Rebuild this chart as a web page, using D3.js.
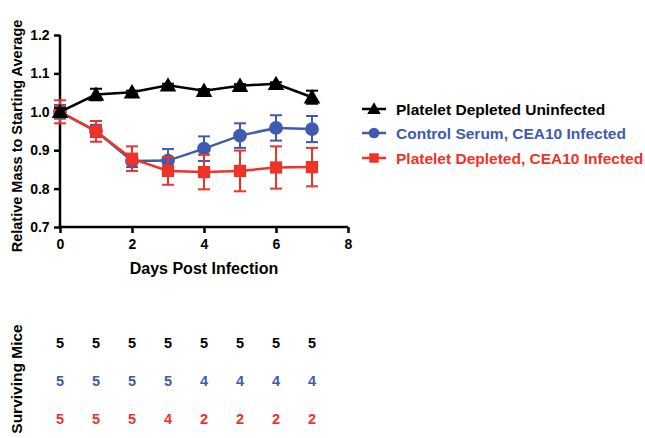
<!DOCTYPE html>
<html>
<head>
<meta charset="utf-8">
<script src="https://cdn.jsdelivr.net/npm/d3@7"></script>
<style>
  html, body { margin: 0; padding: 0; background: #fff; }
  svg { display: block; font-family: "Liberation Sans", Arial, sans-serif; }
</style>
</head>
<body>
<svg id="chart" width="645" height="438"></svg>
<script>
// Days after infection
const days = [0, 1, 2, 3, 4, 5, 6, 7];

// Mean relative mass and SEM for each group
const uninfectedMean = [1.000, 1.045, 1.051, 1.069, 1.055, 1.068, 1.073, 1.038];
const uninfectedErr  = [0.010, 0.015, 0.004, 0.004, 0.004, 0.004, 0.004, 0.017];
const controlMean    = [1.000, 0.950, 0.872, 0.873, 0.904, 0.938, 0.958, 0.955];
const controlErr     = [0.018, 0.016, 0.016, 0.030, 0.032, 0.032, 0.033, 0.034];
const depletedMean   = [1.000, 0.949, 0.878, 0.846, 0.843, 0.846, 0.855, 0.856];
const depletedErr    = [0.030, 0.027, 0.032, 0.036, 0.045, 0.053, 0.055, 0.050];

// Surviving mice per day for each group
const uninfectedSurv = [5, 5, 5, 5, 5, 5, 5, 5];
const controlSurv    = [5, 5, 5, 5, 4, 4, 4, 4];
const depletedSurv   = [5, 5, 5, 4, 2, 2, 2, 2];

const seriesNames = ["Platelet Depleted Uninfected", "Control Serum, CEA10 Infected", "Platelet Depleted, CEA10 Infected"];
const seriesColors = ["#000000", "#3f5bb0", "#ee3327"];
const seriesShapes = [d3.symbolTriangle, d3.symbolCircle, d3.symbolSquare];

const xTicks = [0, 2, 4, 6, 8];
const yTicks = [0.7, 0.8, 0.9, 1.0, 1.1, 1.2];

const svg = d3.select("#chart");

const x = d3.scaleLinear().domain([0, 8]).range([60, 348]);
const y = d3.scaleLinear().domain([0.7, 1.2]).range([227, 35]);

// Axes
const xAxis = d3.axisBottom(x).tickValues(xTicks).tickFormat(d3.format("d")).tickSize(6).tickSizeOuter(0);
const yAxis = d3.axisLeft(y).tickValues(yTicks).tickFormat(d3.format(".1f")).tickSize(6).tickSizeOuter(0);

const gx = svg.append("g").attr("transform", `translate(0,${y(0.7)})`).call(xAxis);
const gy = svg.append("g").attr("transform", `translate(${x(0)},0)`).call(yAxis);

[gx, gy].forEach(g => {
  g.select(".domain").attr("stroke", "#000").attr("stroke-width", 2.5);
  g.selectAll(".tick line").attr("stroke", "#000").attr("stroke-width", 2.5);
  g.selectAll(".tick text").attr("fill", "#000").attr("font-size", 14).attr("font-weight", "bold")
    .attr("font-family", "Liberation Sans, Arial, sans-serif");
});
gx.selectAll(".tick text").attr("dy", "0.9em");
gy.selectAll(".tick text").attr("dx", "-0.1em");
// extend the axis lines so the corner closes
gx.select(".domain").attr("d", `M${x(0) - 1.25},0H${x(8)}`);
gy.select(".domain").attr("d", `M0,${y(1.2)}V${y(0.7) + 1.25}`);

// Axis titles
svg.append("text")
  .attr("x", 204).attr("y", 274)
  .attr("text-anchor", "middle")
  .attr("font-size", 16).attr("font-weight", "bold")
  .text("Days Post Infection");

svg.append("text")
  .attr("transform", `translate(22,${(y(1.2) + y(0.7)) / 2 + 5}) rotate(-90)`)
  .attr("text-anchor", "middle")
  .attr("font-size", 14.5).attr("font-weight", "bold")
  .text("Relative Mass to Starting Average");

// Series
const groups = [
  { mean: uninfectedMean, err: uninfectedErr },
  { mean: controlMean, err: controlErr },
  { mean: depletedMean, err: depletedErr }
];

const line = d3.line().x(d => x(d.day)).y(d => y(d.v));
const symbolSizes = [120, 150, 150];

// draw order: control, depleted, uninfected on top
[1, 2, 0].forEach(i => {
  const g = groups[i];
  const pts = days.map((d, j) => ({ day: d, v: g.mean[j], e: g.err[j] }));
  const color = seriesColors[i];
  const layer = svg.append("g");

  // error bars
  const eb = layer.selectAll(".eb").data(pts).enter().append("g");
  eb.append("line")
    .attr("x1", d => x(d.day)).attr("x2", d => x(d.day))
    .attr("y1", d => y(d.v - d.e)).attr("y2", d => y(d.v + d.e))
    .attr("stroke", color).attr("stroke-width", 2);
  [-1, 1].forEach(s => {
    eb.append("line")
      .attr("x1", d => x(d.day) - 6).attr("x2", d => x(d.day) + 6)
      .attr("y1", d => y(d.v + s * d.e)).attr("y2", d => y(d.v + s * d.e))
      .attr("stroke", color).attr("stroke-width", 2);
  });

  layer.append("path")
    .attr("d", line(pts))
    .attr("fill", "none").attr("stroke", color).attr("stroke-width", 2.5);

  layer.selectAll(".pt").data(pts).enter().append("path")
    .attr("transform", d => `translate(${x(d.day)},${y(d.v) + (i === 0 ? 1.5 : 0)})`)
    .attr("d", d3.symbol().type(seriesShapes[i]).size(symbolSizes[i]))
    .attr("fill", color);
});

// Legend
const legY = [109, 133, 158];
seriesNames.forEach((name, i) => {
  const g = svg.append("g").attr("transform", `translate(0,${legY[i]})`);
  g.append("line").attr("x1", 362).attr("x2", 386).attr("y1", 0).attr("y2", 0)
    .attr("stroke", seriesColors[i]).attr("stroke-width", 2.5);
  g.append("path")
    .attr("transform", `translate(374,${i === 0 ? 1 : 0})`)
    .attr("d", d3.symbol().type(seriesShapes[i]).size(i === 0 ? 80 : 90))
    .attr("fill", seriesColors[i]);
  g.append("text").attr("x", 396).attr("y", 5.5)
    .attr("font-size", 15.5).attr("font-weight", "bold")
    .attr("fill", seriesColors[i])
    .text(name);
});

// Surviving mice table
const survRows = [uninfectedSurv, controlSurv, depletedSurv];
const survY = [348, 386, 424];
survRows.forEach((row, i) => {
  svg.append("g").selectAll("text").data(row).enter().append("text")
    .attr("x", (d, j) => x(days[j]))
    .attr("y", survY[i])
    .attr("text-anchor", "middle")
    .attr("font-size", 14.5).attr("font-weight", "bold")
    .attr("fill", seriesColors[i])
    .text(d => d);
});

svg.append("text")
  .attr("transform", `translate(22,379) rotate(-90)`)
  .attr("text-anchor", "middle")
  .attr("font-size", 15.5).attr("font-weight", "bold")
  .text("Surviving Mice");
</script>
</body>
</html>
